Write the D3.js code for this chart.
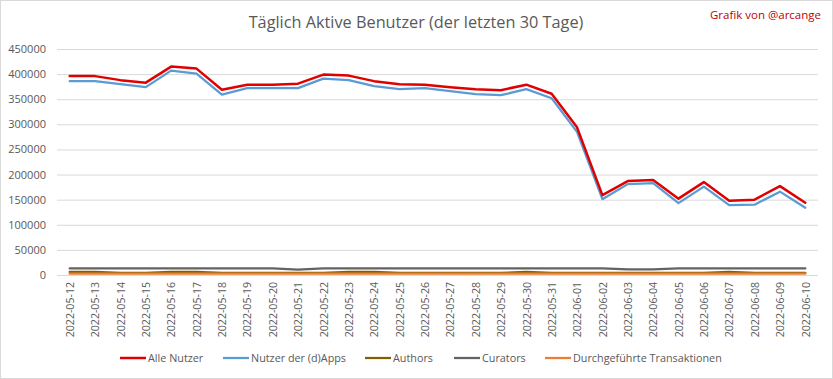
<!DOCTYPE html>
<html>
<head>
<meta charset="utf-8">
<script src="https://cdn.jsdelivr.net/npm/d3@7"></script>
<style>
  body { margin: 0; background: #fff; }
  svg { display: block; font-family: "Open Sans", "Liberation Sans", sans-serif; }
</style>
</head>
<body>
<svg id="chart"></svg>
<script>
const W = 833, H = 379;

const dates = [
  '2022-05-12', '2022-05-13', '2022-05-14', '2022-05-15', '2022-05-16', '2022-05-17',
  '2022-05-18', '2022-05-19', '2022-05-20', '2022-05-21', '2022-05-22', '2022-05-23',
  '2022-05-24', '2022-05-25', '2022-05-26', '2022-05-27', '2022-05-28', '2022-05-29',
  '2022-05-30', '2022-05-31', '2022-06-01', '2022-06-02', '2022-06-03', '2022-06-04',
  '2022-06-05', '2022-06-06', '2022-06-07', '2022-06-08', '2022-06-09', '2022-06-10'
];

const alleNutzer = [396000, 396000, 388000, 383000, 415000, 411000, 369000, 379000, 379000, 381000,
  399000, 397000, 386000, 380000, 379000, 374000, 370000, 368000, 379000, 361000,
  294000, 159000, 187000, 189000, 152000, 185000, 148000, 150000, 177000, 144000];
const dappsNutzer = [386000, 386000, 380000, 374000, 407000, 401000, 359000, 372000, 372000, 372000,
  391000, 388000, 376000, 370000, 372000, 366000, 360000, 358000, 370000, 352000,
  285000, 151000, 181000, 183000, 143000, 176000, 139000, 140000, 166000, 134000];
const authors = [6000, 6000, 4000, 4000, 6000, 6000, 4000, 4000, 4000, 4000,
  4000, 6000, 6000, 4000, 4000, 4000, 4000, 4000, 6000, 4000,
  4000, 4000, 4000, 4000, 4000, 4000, 6000, 4000, 4000, 4000];
const curators = [13000, 13000, 13000, 13000, 13000, 13000, 13000, 13000, 13000, 10500,
  13000, 13000, 13000, 13000, 13000, 13000, 13000, 13000, 13000, 13000,
  13000, 13000, 11000, 11000, 13000, 13000, 13000, 13000, 13000, 13000];
const transaktionen = [2500, 2500, 2500, 2500, 2500, 2500, 2500, 2500, 2500, 2500,
  2500, 2500, 2500, 2500, 2500, 2500, 2500, 2500, 2500, 2500,
  2500, 2500, 2500, 2500, 2500, 2500, 2500, 2500, 2500, 2500];

const yTicks = [0, 50000, 100000, 150000, 200000, 250000, 300000, 350000, 400000, 450000];

// drawing order: small series first, big ones on top
const series = [
  {name: 'Curators', values: curators, color: '#636363', width: 2.25},
  {name: 'Authors', values: authors, color: '#7f6000', width: 2.25},
  {name: 'Durchgeführte Transaktionen', values: transaktionen, color: '#ed7d31', width: 2.25},
  {name: 'Nutzer der (d)Apps', values: dappsNutzer, color: '#5b9bd5', width: 2.25},
  {name: 'Alle Nutzer', values: alleNutzer, color: '#e00000', width: 2.5}
];
const legendOrder = ['Alle Nutzer', 'Nutzer der (d)Apps', 'Authors', 'Curators', 'Durchgeführte Transaktionen'];

const margin = {left: 57, right: 15, top: 49, bottom: 104};

const svg = d3.select('#chart').attr('width', W).attr('height', H);

svg.append('rect')
  .attr('x', 0.5).attr('y', 0.5)
  .attr('width', W - 1).attr('height', H - 1)
  .attr('fill', '#fff').attr('stroke', '#d9d9d9');

const x = d3.scalePoint()
  .domain(dates)
  .range([margin.left, W - margin.right])
  .padding(0.5);

const y = d3.scaleLinear()
  .domain([0, 450000])
  .range([H - margin.bottom, margin.top]);

// title
svg.append('text')
  .attr('x', 416).attr('y', 28)
  .attr('text-anchor', 'middle')
  .attr('font-size', 16.3)
  .attr('fill', '#595959')
  .text('Täglich Aktive Benutzer (der letzten 30 Tage)');

svg.append('text')
  .attr('x', 821).attr('y', 19)
  .attr('text-anchor', 'end')
  .attr('font-size', 11.5)
  .attr('fill', '#c00000')
  .text('Grafik von @arcange');

// grid + y labels
const yAxis = svg.append('g')
  .attr('transform', `translate(${margin.left},0)`)
  .call(d3.axisLeft(y).tickValues(yTicks).tickSize(-(W - margin.left - margin.right)).tickFormat(d3.format('d')));
yAxis.select('.domain').remove();
yAxis.selectAll('.tick line').attr('stroke', '#d9d9d9');
yAxis.selectAll('.tick text')
  .attr('x', -11)
  .attr('font-size', 11)
  .attr('font-family', '"Open Sans", "Liberation Sans", sans-serif')
  .attr('fill', '#595959');

// x labels
const xAxis = svg.append('g')
  .attr('transform', `translate(0,${H - margin.bottom})`)
  .call(d3.axisBottom(x).tickSize(0));
xAxis.select('.domain').remove();
xAxis.selectAll('.tick text')
  .attr('transform', 'rotate(-90)')
  .attr('text-anchor', 'end')
  .attr('dy', '0.35em')
  .attr('x', -7)
  .attr('y', 0)
  .attr('font-size', 10.6)
  .attr('font-family', '"Open Sans", "Liberation Sans", sans-serif')
  .attr('fill', '#595959');

// lines
const line = d3.line()
  .x((d, i) => x(dates[i]))
  .y(d => y(d));

svg.append('g').selectAll('path')
  .data(series)
  .join('path')
  .attr('d', d => line(d.values))
  .attr('fill', 'none')
  .attr('stroke', d => d.color)
  .attr('stroke-width', d => d.width)
  .attr('stroke-linejoin', 'round')
  .attr('stroke-linecap', 'round');

// legend
const legendX = [120, 223, 365, 454, 545];
const legend = svg.append('g');
legendOrder.forEach((name, i) => {
  const s = series.find(d => d.name === name);
  const g = legend.append('g').attr('transform', `translate(${legendX[i]},358)`);
  g.append('line')
    .attr('x1', 0).attr('x2', 26)
    .attr('stroke', s.color).attr('stroke-width', s.width);
  g.append('text')
    .attr('x', 28).attr('dy', '0.35em')
    .attr('font-size', 10.8)
    .attr('fill', '#595959')
    .text(name);
});
</script>
</body>
</html>
